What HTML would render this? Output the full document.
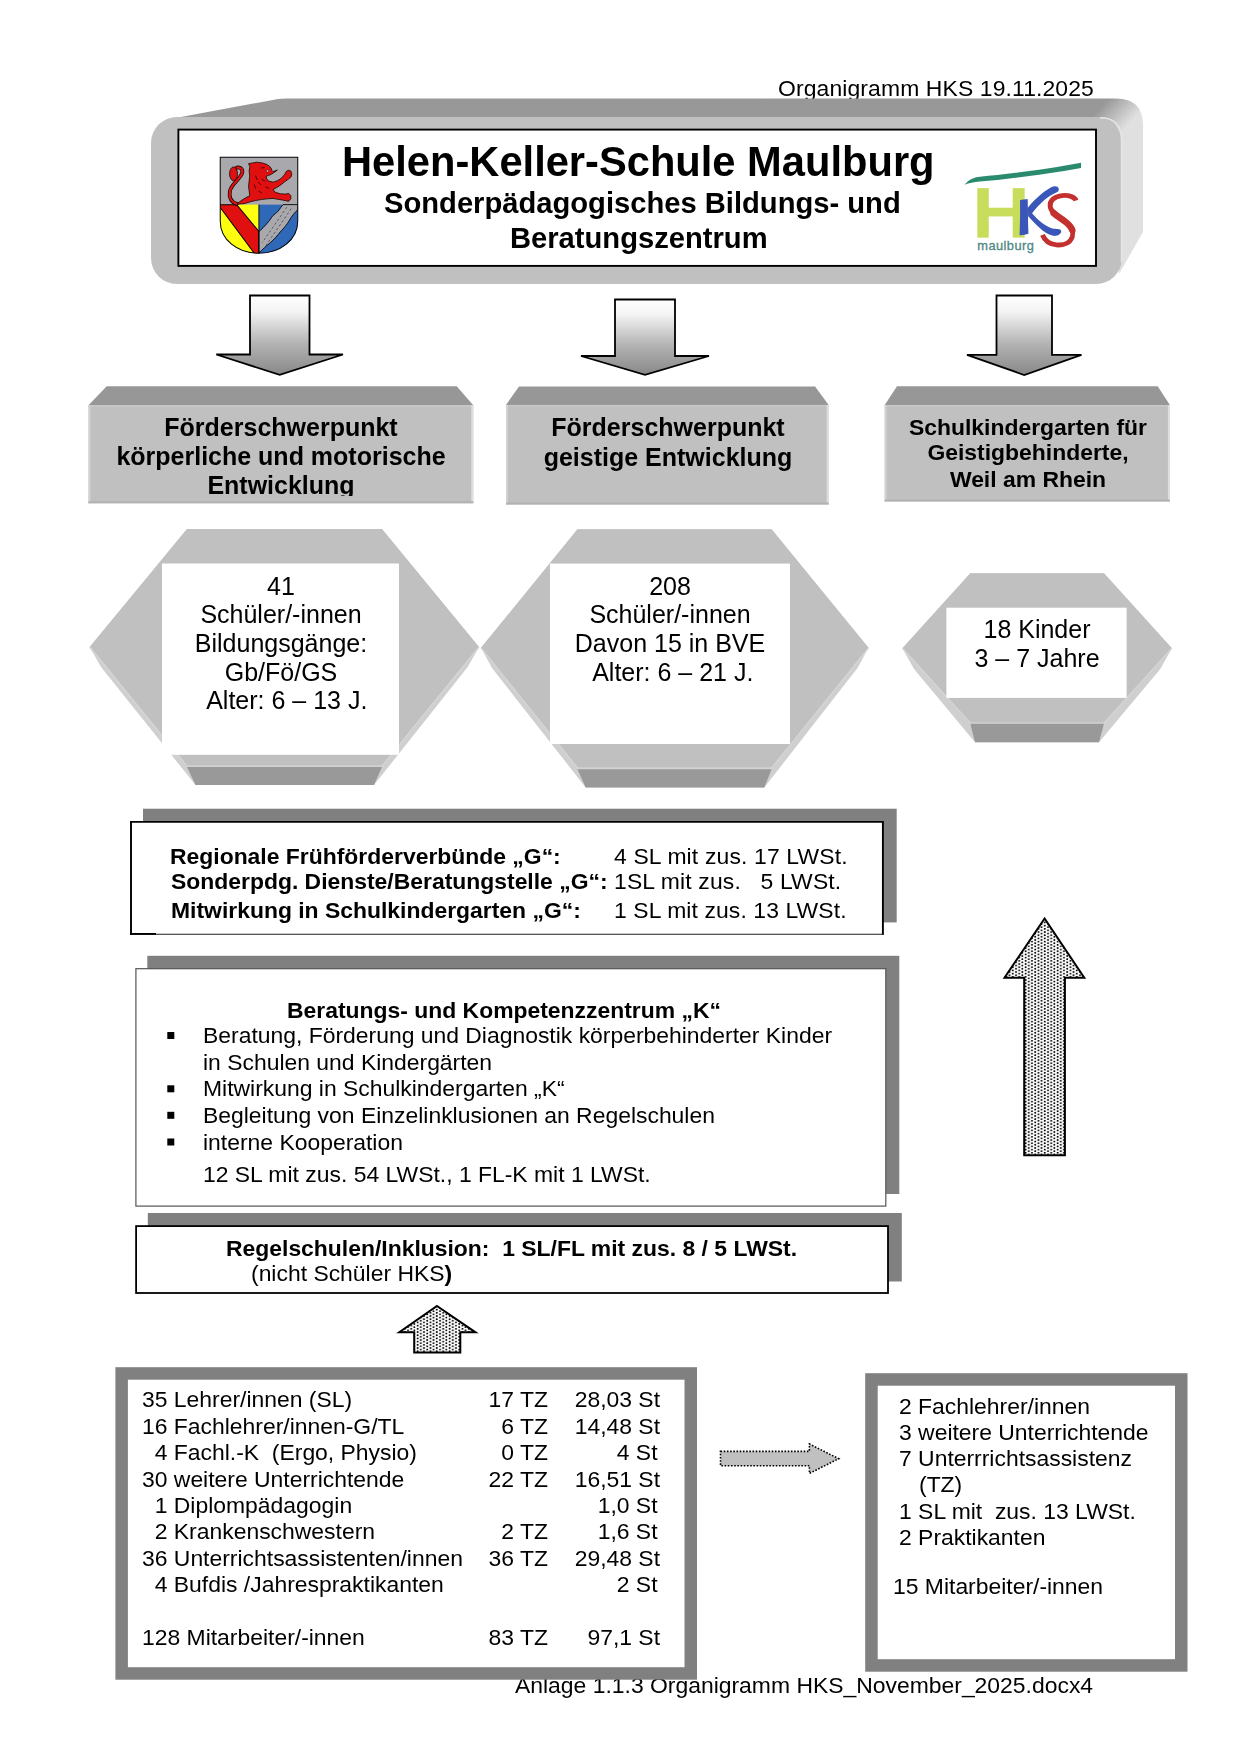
<!DOCTYPE html>
<html lang="de">
<head>
<meta charset="utf-8">
<title>Organigramm HKS</title>
<style>
html,body{margin:0;padding:0;background:#fff;}
body{width:1240px;height:1754px;position:relative;overflow:hidden;font-family:"Liberation Sans",sans-serif;color:#000;}
.t{will-change:transform;position:absolute;white-space:pre;font-size:22.92px;line-height:26.35px;}
.b{font-weight:bold;}
.c{text-align:center;}
svg{position:absolute;left:0;top:0;}
</style>
</head>
<body>
<!-- header date -->
<div class="t" style="left:777.6px;top:75px;letter-spacing:0.12px;">Organigramm HKS 19.11.2025</div>

<div class="t" style="left:515.00px;top:1671.51px;font-size:22.92px;line-height:27.5px;">Anlage 1.1.3 Organigramm HKS_November_2025.docx4</div>
<svg width="1240" height="1754" viewBox="0 0 1240 1754">
<defs>
  <linearGradient id="arr" x1="0" y1="0" x2="0" y2="1">
    <stop offset="0" stop-color="#ffffff"/>
    <stop offset="0.2" stop-color="#f4f4f4"/>
    <stop offset="0.6" stop-color="#b4b4b4"/>
    <stop offset="1" stop-color="#888888"/>
  </linearGradient>
  <linearGradient id="ext" gradientUnits="userSpaceOnUse" x1="1106" y1="101" x2="1130" y2="123">
    <stop offset="0" stop-color="#989898"/>
    <stop offset="1" stop-color="#e0e0e0"/>
  </linearGradient>
  <pattern id="dots" width="6.4" height="3.2" patternUnits="userSpaceOnUse">
    <rect width="6.4" height="3.2" fill="#fff"/>
    <circle cx="1.6" cy="0.8" r="0.95" fill="#000"/>
    <circle cx="4.8" cy="2.4" r="0.95" fill="#000"/>
  </pattern>
  <pattern id="dots2" width="4" height="4" patternUnits="userSpaceOnUse">
    <rect width="4" height="4" fill="#c8c8c8"/>
    <circle cx="1" cy="1" r="0.6" fill="#888"/>
  </pattern>
</defs>

<!-- ===== header 3D box ===== -->
<path d="M178,117.5 L278,99 Q281,98.4 286,98.4 L1116,98.4 Q1143,98.4 1143,125 L1143,232 L1119,274 L1110,150 L178,150 Z" fill="url(#ext)"/>
<rect x="151" y="117" width="971" height="167" rx="26" ry="26" fill="#c0c0c0"/>
<path d="M1100,117.8 Q1121.5,117.8 1121.5,140 L1121.5,262" fill="none" stroke="#e6e6e6" stroke-width="1.4"/>
<rect x="178.4" y="129.6" width="917.6" height="136.3" fill="#fff" stroke="#000" stroke-width="1.9"/>


<!-- ===== coat of arms ===== -->
<svg x="215" y="152" width="90" height="106" viewBox="0 0 1240 1460">
  <defs><clipPath id="shield"><path d="M72,72 H1140 V950 C1140,1210 900,1395 605,1395 C310,1395 72,1210 72,950 Z"/></clipPath></defs>
  <g clip-path="url(#shield)">
    <rect x="0" y="0" width="1240" height="1460" fill="#a9a9ad"/>
    <!-- lower left yellow -->
    <rect x="72" y="725" width="530" height="700" fill="#ffff10"/>
    <!-- red bend -->
    <polygon points="72,725 300,725 605,1095 605,1420 560,1420 72,765" fill="#e01010" stroke="#000" stroke-width="14"/>
    <!-- lower right blue -->
    <rect x="605" y="725" width="540" height="700" fill="#3068b8"/>
    <!-- wavy silver river -->
    <path d="M940,725 C900,760 880,820 830,850 C780,880 770,930 720,980 C680,1030 640,1060 605,1100 L605,1390 C660,1340 700,1300 760,1250 C820,1200 860,1150 900,1100 C950,1050 990,1000 1020,950 C1060,880 1100,830 1145,790 L1145,725 Z" fill="#a9a9ad" stroke="#000" stroke-width="12"/>
    <g stroke="#333" stroke-width="9" stroke-dasharray="35,30">
      <path d="M990,760 L650,1250" fill="none"/>
      <path d="M1050,780 L700,1290" fill="none"/>
    </g>
    <line x1="605" y1="725" x2="605" y2="1420" stroke="#000" stroke-width="12"/>
    <!-- lion tail -->
    <path d="M300,715 C220,690 190,620 205,540 C225,440 330,390 370,300 C395,240 350,205 300,215" fill="none" stroke="#000" stroke-width="52" stroke-linecap="round"/>
    <path d="M300,715 C220,690 190,620 205,540 C225,440 330,390 370,300 C395,240 350,205 300,215" fill="none" stroke="#e01010" stroke-width="34" stroke-linecap="round"/>
    <ellipse cx="255" cy="300" rx="55" ry="95" fill="#e01010" stroke="#000" stroke-width="10"/>
    <!-- lion body -->
    <path d="M300,718 C340,680 400,640 480,600 L470,540 L462,470 L470,400 L478,330 L470,260 L480,200 L462,160 L520,150 L580,140 L650,150 L710,170 L750,195 L775,225 L785,255 L800,270 L860,248 L810,285 L770,310 L730,325 L705,335 L712,370 L740,400 L800,415 L860,395 L915,360 L955,315 L985,265 L1010,250 L1045,262 L1058,300 L1050,340 L1010,375 L960,410 L905,455 L850,490 L800,515 L830,555 L900,575 L970,580 L1015,570 L1045,600 L1045,645 L1015,680 L975,672 L930,662 L870,652 L800,640 L720,645 L640,655 L560,668 L480,688 L400,712 Z" fill="#e01010" stroke="#000" stroke-width="10" stroke-linejoin="round"/>
    <g stroke="#000" stroke-width="9" fill="none" stroke-linecap="round">
      <path d="M560,330 L580,380"/><path d="M600,420 L630,450"/><path d="M540,450 L560,500"/><path d="M650,380 L690,400"/><path d="M600,540 L640,560"/><path d="M700,480 L740,500"/><path d="M640,220 L680,215"/>
    </g>
    <circle cx="725" cy="262" r="14" fill="#fff" stroke="#000" stroke-width="6"/>
  </g>
  <path d="M72,72 H1140 V950 C1140,1210 900,1395 605,1395 C310,1395 72,1210 72,950 Z" fill="none" stroke="#000" stroke-width="14"/>
</svg>
<!-- ===== HKS logo ===== -->
<svg x="955" y="150" width="135" height="110" viewBox="0 0 1240 1010">
  <path d="M88,318 C130,270 170,252 230,245 C450,225 800,185 1158,118 L1158,165 C800,228 450,272 230,290 C170,296 130,305 88,318 Z" fill="#2a8a6e"/>
  <g fill="#c8dd5c">
    <rect x="205" y="350" width="105" height="455"/>
    <rect x="530" y="350" width="110" height="455"/>
    <rect x="300" y="530" width="240" height="80"/>
  </g>
  <g transform="translate(505.2,275.6) scale(0.5557)">
    <g fill="#3a56b8">
      <path d="M165,335 C200,320 250,315 292,312 C300,500 295,700 305,890 C260,905 200,915 158,912 C165,720 170,520 165,335 Z"/>
      <path d="M285,470 C380,350 520,210 680,120 C730,95 790,95 805,140 C812,185 790,200 750,215 C640,260 510,360 345,575 Z"/>
      <path d="M295,470 C420,620 560,760 700,800 C760,812 830,800 845,835 C855,885 800,925 735,925 C610,915 470,790 300,600 Z"/>
    </g>
    <path d="M1092,338 C1068,272 962,248 862,257 C732,270 652,342 664,437 C674,532 792,602 907,682 C1017,760 1060,832 1030,937 C992,1052 867,1082 767,1072 C647,1060 572,1002 537,907" fill="none" stroke="#c4302e" stroke-width="80"/>
    <path d="M720,545 C780,600 850,640 907,682 C965,725 1010,770 1030,830" fill="none" stroke="#c4302e" stroke-width="108" stroke-linecap="round"/>
  </g>
  <text x="205" y="915" font-family="Liberation Sans, sans-serif" font-size="118" fill="#4f8884" stroke="#4f8884" stroke-width="3" letter-spacing="4">maulburg</text>
</svg>

<!-- ===== down arrows ===== -->
<path d="M250,295.5 L309.5,295.5 L309.5,354.5 L343,354.5 L279.7,374.8 L216.3,354.5 L250,354.5 Z" fill="url(#arr)" stroke="#000" stroke-width="1.8" stroke-linejoin="miter"/>
<path d="M615,299.5 L675,299.5 L675,356 L709,356 L645,374.8 L581,356 L615,356 Z" fill="url(#arr)" stroke="#000" stroke-width="1.8"/>
<path d="M996.5,295.5 L1052,295.5 L1052,354.8 L1081.5,354.8 L1024.2,375 L967,354.8 L996.5,354.8 Z" fill="url(#arr)" stroke="#000" stroke-width="1.8"/>

<!-- ===== category boxes ===== -->
<polygon points="106.7,386.3 456.7,386.3 473.3,405.2 88.5,405.2" fill="#979797"/>
<rect x="88.5" y="405.2" width="384.8" height="98.1" fill="#c0c0c0"/>
<line x1="88.5" y1="406.0" x2="473.3" y2="406.0" stroke="#c8c8c8" stroke-width="1.4"/>
<line x1="89.5" y1="405.2" x2="89.5" y2="503.3" stroke="#d2d2d2" stroke-width="2"/>
<line x1="472.3" y1="405.2" x2="472.3" y2="503.3" stroke="#e0e0e0" stroke-width="2"/>
<line x1="88.5" y1="502.3" x2="473.3" y2="502.3" stroke="#b2b2b2" stroke-width="2"/>
<polygon points="519,386.5 815.1,386.5 828.7,404.9 506,404.9" fill="#979797"/>
<rect x="506" y="404.9" width="322.7" height="99.6" fill="#c0c0c0"/>
<line x1="506" y1="405.7" x2="828.7" y2="405.7" stroke="#c8c8c8" stroke-width="1.4"/>
<line x1="507" y1="404.9" x2="507" y2="504.5" stroke="#d2d2d2" stroke-width="2"/>
<line x1="827.7" y1="404.9" x2="827.7" y2="504.5" stroke="#e0e0e0" stroke-width="2"/>
<line x1="506" y1="503.5" x2="828.7" y2="503.5" stroke="#b2b2b2" stroke-width="2"/>
<polygon points="897,386.3 1157.7,386.3 1169.9,405 884.7,405" fill="#979797"/>
<rect x="884.7" y="405" width="285.2" height="96.4" fill="#c0c0c0"/>
<line x1="884.7" y1="405.8" x2="1169.9" y2="405.8" stroke="#c8c8c8" stroke-width="1.4"/>
<line x1="885.7" y1="405" x2="885.7" y2="501.4" stroke="#d2d2d2" stroke-width="2"/>
<line x1="1168.9" y1="405" x2="1168.9" y2="501.4" stroke="#e0e0e0" stroke-width="2"/>
<line x1="884.7" y1="500.4" x2="1169.9" y2="500.4" stroke="#b2b2b2" stroke-width="2"/>

<!-- ===== hexagons ===== -->
<!-- hex1 -->
<polygon points="187,529 382,529 479,647 467.7,667 374,785 195.5,785 101,667 89.7,647" fill="#cfcfcf"/>
<polygon points="187,529 382,529 479,647 382,766 187,766 89.7,647" fill="#c0c0c0"/>
<polygon points="187,767 382,767 374,785 195.5,785" fill="#999"/>
<polyline points="89.7,647 187,766 382,766 479,647" fill="none" stroke="#d6d6d6" stroke-width="1.2"/>
<rect x="162" y="563.5" width="237" height="191.3" fill="#fff"/>
<!-- hex2 -->
<polygon points="577.5,529.3 771.6,529.3 868.5,647.8 857.5,668 764.3,787.5 585.7,787.5 492,668 481,647.8" fill="#cfcfcf"/>
<polygon points="577.5,529.3 771.6,529.3 868.5,647.8 771.6,768 577.5,768 481,647.8" fill="#c0c0c0"/>
<polygon points="577.5,769.3 771.6,769.3 764.3,787.5 585.7,787.5" fill="#999"/>
<polyline points="481,647.8 577.5,768 771.6,768 868.5,647.8" fill="none" stroke="#d6d6d6" stroke-width="1.2"/>
<rect x="550" y="563.6" width="240" height="180.4" fill="#fff"/>
<!-- hex3 -->
<polygon points="970.3,573.3 1104,573.3 1171.9,648.2 1160.3,669 1099,742.3 975,742.3 914,669 902.4,648.2" fill="#cfcfcf"/>
<polygon points="970.3,573.3 1104,573.3 1171.9,648.2 1104,723 970.3,723 902.4,648.2" fill="#c0c0c0"/>
<polygon points="970.3,723.6 1104,723.6 1099,742.3 975,742.3" fill="#999"/>
<polyline points="902.4,648.2 970.3,723 1104,723 1171.9,648.2" fill="none" stroke="#d6d6d6" stroke-width="1.2"/>
<rect x="946.4" y="607.7" width="180.2" height="90.2" fill="#fff"/>

<!-- ===== box G ===== -->
<rect x="143" y="808.7" width="753.7" height="113.7" fill="#808080"/>
<rect x="131" y="821.9" width="751.9" height="112.4" fill="#fff"/>
<path d="M131,934.8 V821.9 H882.9 V934.8" fill="none" stroke="#000" stroke-width="1.9"/>
<line x1="130" y1="934.3" x2="883.9" y2="934.3" stroke="#222" stroke-width="1.1"/>
<line x1="130" y1="933.9" x2="156" y2="933.9" stroke="#000" stroke-width="1.8"/>
<!-- ===== box K ===== -->
<rect x="147.3" y="955.8" width="752" height="238.2" fill="#808080"/>
<rect x="135.9" y="968.7" width="749.9" height="237.4" fill="#fff" stroke="#555" stroke-width="1.2"/>
<!-- ===== box R ===== -->
<rect x="147.8" y="1213" width="754" height="68.5" fill="#808080"/>
<rect x="136.1" y="1226.1" width="751.9" height="66.9" fill="#fff" stroke="#000" stroke-width="1.8"/>

<rect x="167.3" y="1032.0" width="7" height="7" fill="#000"/>
<rect x="167.3" y="1085.3" width="7" height="7" fill="#000"/>
<rect x="167.3" y="1111.8" width="7" height="7" fill="#000"/>
<rect x="167.3" y="1138.5" width="7" height="7" fill="#000"/>
<!-- ===== big dotted up arrow ===== -->
<path d="M1044.6,918.5 L1084.3,977.7 L1064.9,977.7 L1064.9,1155.2 L1024.2,1155.2 L1024.2,977.7 L1004.5,977.7 Z" fill="url(#dots)" stroke="#000" stroke-width="2"/>
<!-- ===== small dotted up arrow ===== -->
<path d="M437,1306 L475.5,1332.3 L460.3,1332.3 L460.3,1352.5 L414.2,1352.5 L414.2,1332.3 L399.3,1332.3 Z" fill="url(#dots)" stroke="#000" stroke-width="2"/>

<!-- ===== bottom boxes ===== -->
<rect x="121.65" y="1373.45" width="569.1" height="300" fill="#fff" stroke="#808080" stroke-width="12.5"/>
<rect x="871.45" y="1379.45" width="309.8" height="286" fill="#fff" stroke="#808080" stroke-width="12.5"/>
<!-- right dotted arrow -->
<path d="M720.5,1451.4 L809.4,1451.4 L809.4,1444 L838.7,1458.7 L809.4,1473.4 L809.4,1465.7 L720.5,1465.7 Z" fill="#c0c0c0" stroke="#000" stroke-width="1.6" stroke-dasharray="1.6,1.6"/>

</svg>

<!-- header texts -->
<div class="t b" style="left:342px;top:138px;font-size:41.67px;line-height:48px;">Helen-Keller-Schule Maulburg</div>
<div class="t b" style="left:384px;top:185.5px;font-size:29.17px;line-height:34px;">Sonderpädagogisches Bildungs- und</div>
<div class="t b" style="left:510px;top:220.5px;font-size:29.17px;line-height:34px;">Beratungszentrum</div>

<!-- texts -->
<div class="t b" style="left:-19.00px;width:600px;text-align:center;top:412.24px;font-size:25px;line-height:30.0px;">Förderschwerpunkt</div>
<div class="t b" style="left:-19.00px;width:600px;text-align:center;top:441.44px;font-size:25px;line-height:30.0px;">körperliche und motorische</div>
<div class="t b" style="left:-19.00px;width:600px;text-align:center;top:469.84px;font-size:25px;line-height:30.0px;height:26.2px;overflow:hidden;">Entwicklung</div>
<div class="t b" style="left:367.80px;width:600px;text-align:center;top:412.14px;font-size:25px;line-height:30.0px;">Förderschwerpunkt</div>
<div class="t b" style="left:367.80px;width:600px;text-align:center;top:441.84px;font-size:25px;line-height:30.0px;">geistige Entwicklung</div>
<div class="t b" style="left:727.70px;width:600px;text-align:center;top:413.61px;font-size:22.92px;line-height:27.5px;">Schulkindergarten für</div>
<div class="t b" style="left:727.70px;width:600px;text-align:center;top:439.41px;font-size:22.92px;line-height:27.5px;">Geistigbehinderte,</div>
<div class="t b" style="left:727.70px;width:600px;text-align:center;top:466.01px;font-size:22.92px;line-height:27.5px;">Weil am Rhein</div>
<div class="t" style="left:-19.50px;width:600px;text-align:center;top:571.04px;font-size:25px;line-height:30.0px;">41</div>
<div class="t" style="left:-19.50px;width:600px;text-align:center;top:599.44px;font-size:25px;line-height:30.0px;">Schüler/-innen</div>
<div class="t" style="left:-19.50px;width:600px;text-align:center;top:628.44px;font-size:25px;line-height:30.0px;">Bildungsgänge:</div>
<div class="t" style="left:-19.50px;width:600px;text-align:center;top:656.54px;font-size:25px;line-height:30.0px;">Gb/Fö/GS</div>
<div class="t" style="left:-16.50px;width:600px;text-align:center;top:684.84px;font-size:25px;line-height:30.0px;"> Alter: 6 – 13 J.</div>
<div class="t" style="left:370.00px;width:600px;text-align:center;top:571.24px;font-size:25px;line-height:30.0px;">208</div>
<div class="t" style="left:370.00px;width:600px;text-align:center;top:599.34px;font-size:25px;line-height:30.0px;">Schüler/-innen</div>
<div class="t" style="left:370.00px;width:600px;text-align:center;top:628.44px;font-size:25px;line-height:30.0px;">Davon 15 in BVE</div>
<div class="t" style="left:370.00px;width:600px;text-align:center;top:657.24px;font-size:25px;line-height:30.0px;"> Alter: 6 – 21 J.</div>
<div class="t" style="left:736.50px;width:600px;text-align:center;top:614.24px;font-size:25px;line-height:30.0px;">18 Kinder</div>
<div class="t" style="left:736.50px;width:600px;text-align:center;top:643.34px;font-size:25px;line-height:30.0px;">3 – 7 Jahre</div>
<div class="t b" style="left:170.40px;top:842.81px;font-size:22.92px;line-height:27.5px;">Regionale Frühförderverbünde „G“:</div>
<div class="t b" style="left:170.60px;top:867.81px;font-size:22.92px;line-height:27.5px;">Sonderpdg. Dienste/Beratungstelle „G“:</div>
<div class="t b" style="left:170.80px;top:896.81px;font-size:22.92px;line-height:27.5px;">Mitwirkung in Schulkindergarten „G“:</div>
<div class="t" style="left:614.20px;top:842.81px;font-size:22.92px;line-height:27.5px;letter-spacing:0.15px;">4 SL mit zus. 17 LWSt.</div>
<div class="t" style="left:613.80px;top:867.81px;font-size:22.92px;line-height:27.5px;letter-spacing:0.15px;">1SL mit zus.   5 LWSt.</div>
<div class="t" style="left:613.80px;top:896.81px;font-size:22.92px;line-height:27.5px;letter-spacing:0.1px;">1 SL mit zus. 13 LWSt.</div>
<div class="t b" style="left:286.60px;top:996.61px;font-size:22.92px;line-height:27.5px;">Beratungs- und Kompetenzzentrum „K“</div>
<div class="t" style="left:202.80px;top:1022.01px;font-size:22.92px;line-height:27.5px;">Beratung, Förderung und Diagnostik körperbehinderter Kinder</div>
<div class="t" style="left:202.80px;top:1048.61px;font-size:22.92px;line-height:27.5px;">in Schulen und Kindergärten</div>
<div class="t" style="left:202.80px;top:1075.31px;font-size:22.92px;line-height:27.5px;">Mitwirkung in Schulkindergarten „K“</div>
<div class="t" style="left:202.80px;top:1101.81px;font-size:22.92px;line-height:27.5px;">Begleitung von Einzelinklusionen an Regelschulen</div>
<div class="t" style="left:202.80px;top:1128.51px;font-size:22.92px;line-height:27.5px;">interne Kooperation</div>
<div class="t" style="left:202.60px;top:1161.21px;font-size:22.92px;line-height:27.5px;">12 SL mit zus. 54 LWSt., 1 FL-K mit 1 LWSt.</div>
<div class="t b" style="left:225.90px;top:1234.81px;font-size:22.92px;line-height:27.5px;">Regelschulen/Inklusion:  1 SL/FL mit zus. 8 / 5 LWSt.</div>
<div class="t" style="left:250.70px;top:1260.11px;font-size:22.92px;line-height:27.5px;">(nicht Schüler HKS<b>)</b></div>
<div class="t" style="left:142.00px;top:1386.31px;font-size:22.92px;line-height:27.5px;">35 Lehrer/innen (SL)</div>
<div class="t" style="left:0.00px;top:1386.31px;font-size:22.92px;line-height:27.5px;width:548px;text-align:right;left:0;">17 TZ</div>
<div class="t" style="left:0.00px;top:1386.31px;font-size:22.92px;line-height:27.5px;width:660px;text-align:right;left:0;">28,03 St</div>
<div class="t" style="left:142.00px;top:1412.91px;font-size:22.92px;line-height:27.5px;">16 Fachlehrer/innen-G/TL</div>
<div class="t" style="left:0.00px;top:1412.91px;font-size:22.92px;line-height:27.5px;width:548px;text-align:right;left:0;">6 TZ</div>
<div class="t" style="left:0.00px;top:1412.91px;font-size:22.92px;line-height:27.5px;width:660px;text-align:right;left:0;">14,48 St</div>
<div class="t" style="left:142.00px;top:1439.01px;font-size:22.92px;line-height:27.5px;">  4 Fachl.-K  (Ergo, Physio)</div>
<div class="t" style="left:0.00px;top:1439.01px;font-size:22.92px;line-height:27.5px;width:548px;text-align:right;left:0;">0 TZ</div>
<div class="t" style="left:0.00px;top:1439.01px;font-size:22.92px;line-height:27.5px;width:657.5px;text-align:right;left:0;">4 St</div>
<div class="t" style="left:142.00px;top:1465.81px;font-size:22.92px;line-height:27.5px;">30 weitere Unterrichtende</div>
<div class="t" style="left:0.00px;top:1465.81px;font-size:22.92px;line-height:27.5px;width:548px;text-align:right;left:0;">22 TZ</div>
<div class="t" style="left:0.00px;top:1465.81px;font-size:22.92px;line-height:27.5px;width:660px;text-align:right;left:0;">16,51 St</div>
<div class="t" style="left:142.00px;top:1491.81px;font-size:22.92px;line-height:27.5px;">  1 Diplompädagogin</div>
<div class="t" style="left:0.00px;top:1491.81px;font-size:22.92px;line-height:27.5px;width:657.5px;text-align:right;left:0;">1,0 St</div>
<div class="t" style="left:142.00px;top:1518.11px;font-size:22.92px;line-height:27.5px;">  2 Krankenschwestern</div>
<div class="t" style="left:0.00px;top:1518.11px;font-size:22.92px;line-height:27.5px;width:548px;text-align:right;left:0;">2 TZ</div>
<div class="t" style="left:0.00px;top:1518.11px;font-size:22.92px;line-height:27.5px;width:657.5px;text-align:right;left:0;">1,6 St</div>
<div class="t" style="left:142.00px;top:1545.11px;font-size:22.92px;line-height:27.5px;">36 Unterrichtsassistenten/innen</div>
<div class="t" style="left:0.00px;top:1545.11px;font-size:22.92px;line-height:27.5px;width:548px;text-align:right;left:0;">36 TZ</div>
<div class="t" style="left:0.00px;top:1545.11px;font-size:22.92px;line-height:27.5px;width:660px;text-align:right;left:0;">29,48 St</div>
<div class="t" style="left:142.00px;top:1570.81px;font-size:22.92px;line-height:27.5px;">  4 Bufdis /Jahrespraktikanten</div>
<div class="t" style="left:0.00px;top:1570.81px;font-size:22.92px;line-height:27.5px;width:657.5px;text-align:right;left:0;">2 St</div>
<div class="t" style="left:142.00px;top:1624.11px;font-size:22.92px;line-height:27.5px;">128 Mitarbeiter/-innen</div>
<div class="t" style="left:0.00px;top:1624.11px;font-size:22.92px;line-height:27.5px;width:548px;text-align:right;left:0;">83 TZ</div>
<div class="t" style="left:0.00px;top:1624.11px;font-size:22.92px;line-height:27.5px;width:660px;text-align:right;left:0;">97,1 St</div>
<div class="t" style="left:898.70px;top:1393.41px;font-size:22.92px;line-height:27.5px;">2 Fachlehrer/innen</div>
<div class="t" style="left:898.70px;top:1419.11px;font-size:22.92px;line-height:27.5px;">3 weitere Unterrichtende</div>
<div class="t" style="left:898.70px;top:1444.61px;font-size:22.92px;line-height:27.5px;">7 Unterrrichtsassistenz</div>
<div class="t" style="left:918.80px;top:1471.11px;font-size:22.92px;line-height:27.5px;">(TZ)</div>
<div class="t" style="left:898.70px;top:1498.21px;font-size:22.92px;line-height:27.5px;">1 SL mit  zus. 13 LWSt.</div>
<div class="t" style="left:898.70px;top:1524.11px;font-size:22.92px;line-height:27.5px;">2 Praktikanten</div>
<div class="t" style="left:892.50px;top:1572.71px;font-size:22.92px;line-height:27.5px;">15 Mitarbeiter/-innen</div>
</body>
</html>
